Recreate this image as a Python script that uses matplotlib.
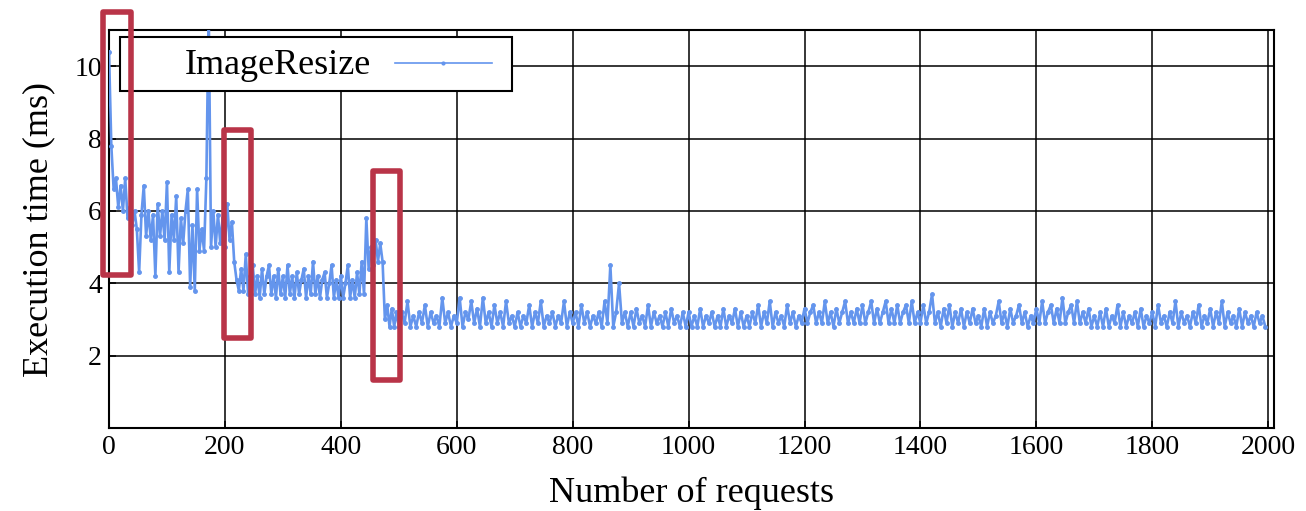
import numpy as np
import matplotlib.pyplot as plt
from matplotlib.patches import Rectangle
from matplotlib.lines import Line2D

plt.rcParams['font.family'] = ['Liberation Serif', 'DejaVu Serif']

# requests 0-496 are sampled every 4 requests, the rest every 5
EARLY_STEP = 4
LATE_STEP = 5

# execution time (ms): cold start, second level, bump before the drop
early_ms = [
    10.4, 7.8, 6.6, 6.9, 6.1, 6.7, 6.0, 6.9, 5.8, 6.1,
    5.6, 6.0, 5.5, 4.3, 5.9, 6.7, 5.3, 6.0, 5.2, 5.9,
    4.2, 6.2, 5.3, 6.0, 5.2, 6.8, 4.3, 5.9, 5.2, 6.4,
    4.3, 5.8, 5.1, 6.0, 6.6, 3.9, 5.6, 3.8, 6.6, 4.9,
    5.5, 4.9, 6.9, 11.6, 5.0, 6.0, 5.0, 5.9, 5.1, 5.8,
    5.0, 6.2, 5.2, 5.7, 4.6, 4.1, 3.8, 4.4, 3.8, 4.8,
    3.7, 4.2, 4.5, 3.7, 4.2, 3.6, 4.4, 3.7, 4.2, 4.5,
    3.7, 4.2, 3.6, 4.4, 3.7, 4.2, 3.6, 4.5, 3.7, 4.2,
    3.6, 4.3, 3.7, 4.1, 4.4, 3.6, 4.2, 3.7, 4.6, 3.7,
    4.2, 3.6, 4.1, 4.3, 3.6, 4.0, 4.5, 3.6, 4.1, 3.6,
    4.2, 3.6, 4.0, 4.5, 3.6, 4.1, 3.6, 4.3, 3.7, 4.6,
    3.7, 5.8, 4.4, 5.0, 4.5, 5.2, 4.6, 5.1, 4.6, 3.0,
    3.4, 2.8, 3.3, 2.8, 3.2,
]
# requests 500-1995: steady state
steady_ms = [
    2.8, 3.2, 2.9, 3.5, 2.8, 3.1, 2.8, 3.2, 2.9, 3.4, 2.8, 3.2, 2.9, 3.1, 2.8, 3.6, 2.9, 3.2, 2.8, 3.1,
    2.9, 3.6, 2.8, 3.2, 3.0, 3.5, 2.9, 3.3, 2.8, 3.6, 2.9, 3.2, 2.8, 3.4, 2.9, 3.2, 2.8, 3.5, 2.9, 3.1,
    2.8, 3.2, 2.8, 3.1, 2.9, 3.4, 2.8, 3.2, 2.9, 3.5, 2.8, 3.1, 2.9, 3.2, 2.8, 3.1, 2.9, 3.5, 2.8, 3.2,
    2.9, 3.2, 2.8, 3.4, 2.9, 3.2, 2.8, 3.1, 2.9, 3.2, 2.8, 3.5, 2.9, 4.5, 2.8, 3.2, 4.0, 2.9, 3.2, 2.8,
    3.2, 2.8, 3.3, 2.9, 3.1, 2.8, 3.4, 2.8, 3.2, 2.9, 3.1, 2.8, 3.2, 2.8, 3.3, 2.9, 3.1, 2.8, 3.2, 2.8,
    3.2, 2.8, 3.1, 2.8, 3.3, 2.8, 3.1, 2.9, 3.2, 2.8, 3.1, 2.8, 3.3, 2.8, 3.1, 2.9, 3.3, 2.8, 3.2, 2.8,
    3.1, 2.8, 3.2, 2.9, 3.4, 2.8, 3.2, 2.9, 3.5, 2.8, 3.2, 2.9, 3.1, 2.8, 3.4, 2.9, 3.2, 2.8, 3.1, 2.9,
    3.3, 2.9, 3.2, 3.4, 2.9, 3.2, 2.9, 3.5, 2.9, 3.2, 2.8, 3.3, 2.9, 3.2, 3.5, 2.9, 3.2, 2.9, 3.3, 2.9,
    3.4, 2.9, 3.2, 3.5, 2.9, 3.3, 2.9, 3.2, 3.5, 2.9, 3.3, 2.9, 3.4, 2.9, 3.2, 3.4, 2.9, 3.5, 2.9, 3.2,
    2.9, 3.4, 2.9, 3.2, 3.7, 2.9, 3.2, 2.8, 3.3, 2.9, 3.4, 2.8, 3.2, 2.9, 3.3, 2.8, 3.2, 2.9, 3.3, 2.9,
    3.1, 2.8, 3.3, 2.8, 3.2, 2.9, 3.1, 3.5, 2.9, 3.2, 2.8, 3.3, 2.9, 3.1, 3.4, 2.9, 3.2, 2.8, 3.1, 2.9,
    3.3, 2.9, 3.5, 2.9, 3.2, 3.4, 2.9, 3.3, 2.9, 3.6, 2.9, 3.2, 3.4, 2.9, 3.5, 2.9, 3.2, 2.9, 3.3, 2.8,
    3.1, 2.8, 3.2, 2.8, 3.3, 2.8, 3.1, 2.9, 3.4, 2.8, 3.2, 2.8, 3.1, 2.9, 3.2, 2.8, 3.3, 2.8, 3.1, 2.9,
    3.2, 2.8, 3.4, 2.9, 3.1, 2.8, 3.2, 2.9, 3.5, 2.8, 3.2, 2.9, 3.1, 2.8, 3.2, 2.9, 3.4, 2.8, 3.1, 2.9,
    3.3, 2.8, 3.2, 2.9, 3.5, 2.8, 3.2, 2.9, 3.1, 2.8, 3.3, 2.8, 3.2, 2.9, 3.1, 2.8, 3.2, 2.9, 3.1, 2.8,
]

# request ranges highlighted by hand: (first request, last request, low ms, high ms)
highlights = [(-11, 37.5, 4.23, 11.5), (198.5, 245, 2.5, 8.23), (455.6, 502, 1.34, 7.1)]

requests = np.concatenate([np.arange(len(early_ms)) * EARLY_STEP,
                           500 + np.arange(len(steady_ms)) * LATE_STEP])
exec_ms = np.array(early_ms + steady_ms)

BLUE = '#6495ed'
RED = '#b93448'

fig = plt.figure(figsize=(13.06, 5.11), dpi=100)
ax = fig.add_axes([109 / 1306, 1 - 428 / 511, 1165 / 1306, 398 / 511])

ax.plot(requests, exec_ms, color=BLUE, lw=1.9, marker='.', markersize=5, zorder=3)

ax.set_xlim(0, 2010)
ax.set_ylim(0, 11)
ax.set_xticks(np.arange(0, 2001, 200))
ax.set_yticks([2, 4, 6, 8, 10])
ax.grid(True, color='black', lw=1.1)
ax.set_axisbelow(True)
ax.tick_params(direction='in', labelsize=20, pad=5, length=5, width=1.1)
for s in ax.spines.values():
    s.set_linewidth(1.5)

ax.set_xlabel('Number of requests', fontsize=26, labelpad=12)
ax.set_ylabel('Execution time (ms)', fontsize=26, labelpad=14)

# legend box drawn by hand: text first, sample line after it
ax.add_patch(Rectangle((0.0094, 0.8467), 0.3365, 0.1357, transform=ax.transAxes,
                       facecolor='white', edgecolor='black', lw=1.5, zorder=5))
ax.text(0.0652, 0.912, 'ImageResize', transform=ax.transAxes, fontsize=26,
        ha='left', va='center', zorder=6)
ax.add_line(Line2D([0.2455, 0.3288], [0.917, 0.917], transform=ax.transAxes,
                   color=BLUE, lw=1.2, zorder=6))
ax.add_line(Line2D([0.287], [0.917], transform=ax.transAxes, color=BLUE,
                   marker='.', markersize=4, zorder=6))

for x0, x1, y0, y1 in highlights:
    ax.add_patch(Rectangle((x0, y0), x1 - x0, y1 - y0, fill=False, edgecolor=RED,
                           lw=4, joinstyle='round', clip_on=False, zorder=7))

fig.savefig('out.png', dpi=100)
